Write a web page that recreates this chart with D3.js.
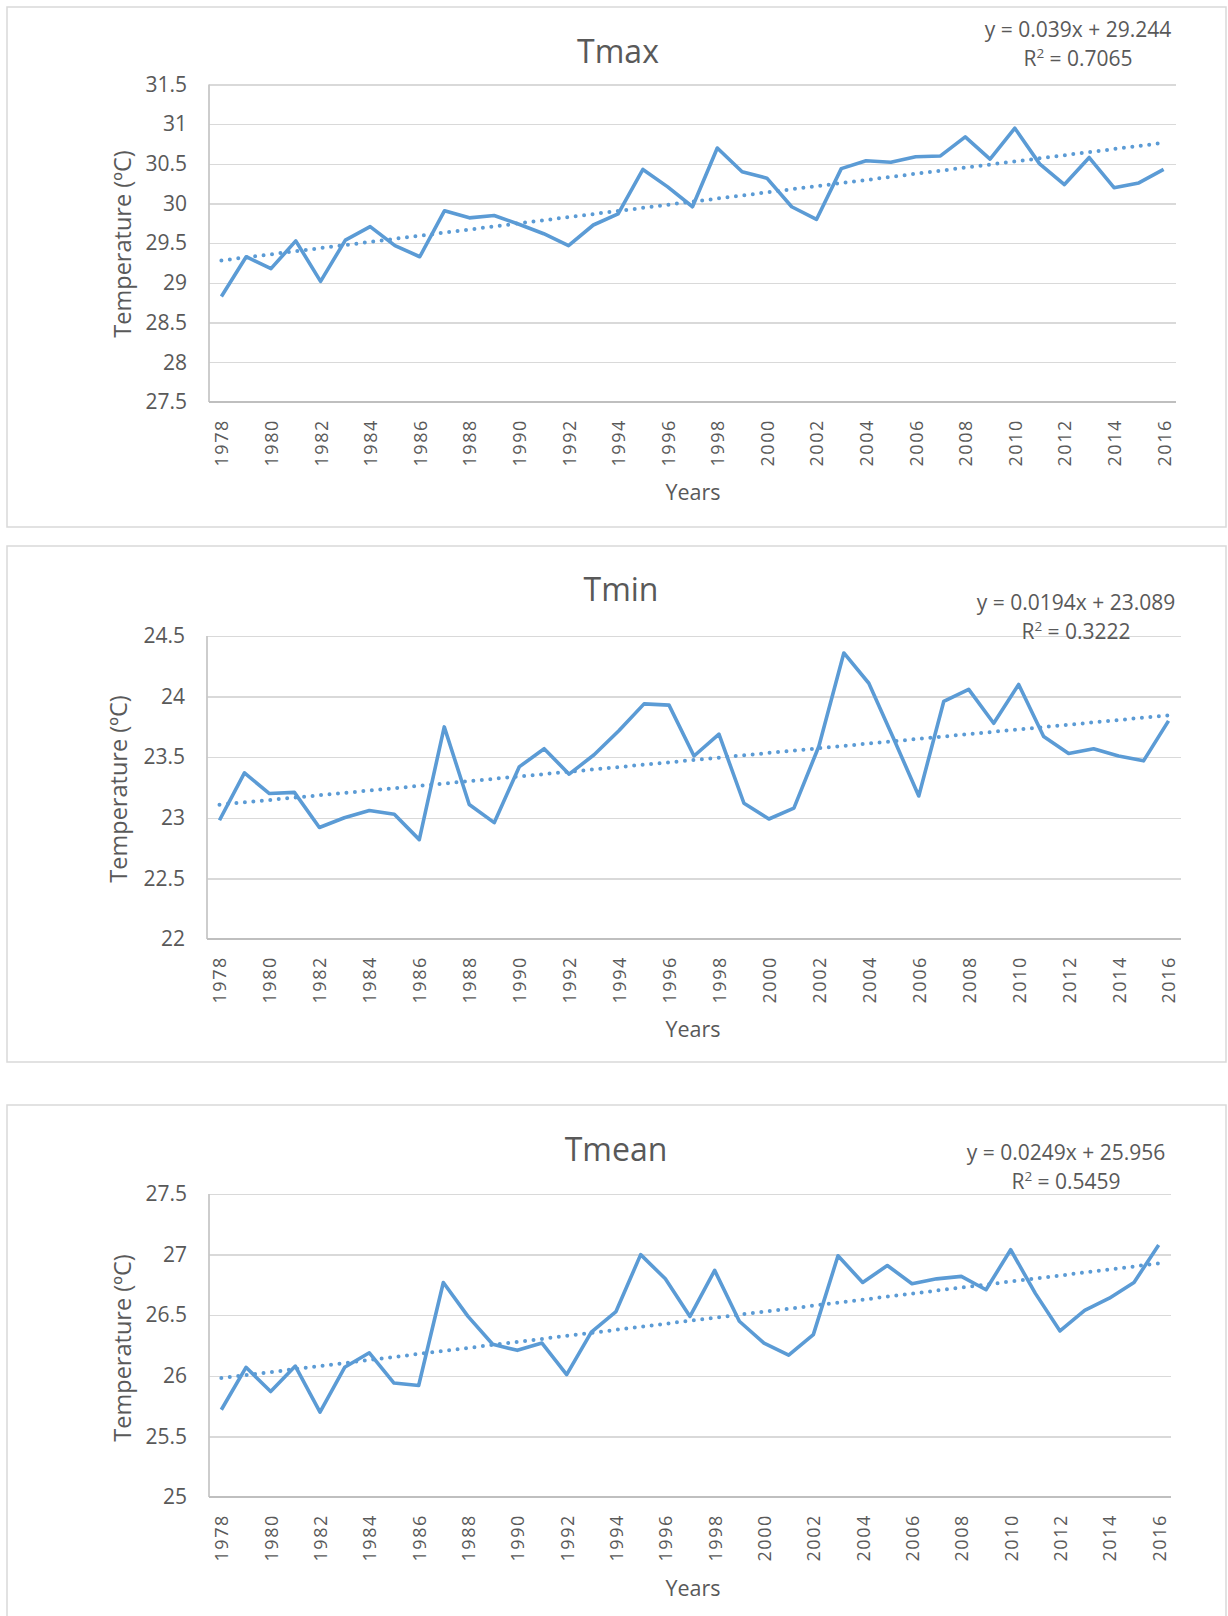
<!doctype html>
<html>
<head>
  <meta charset="utf-8">
  <style>
      body { margin:0; background:#fff; }
      svg { display:block; }
      text { font-family:"Open Sans", sans-serif; fill:#595959; }
      .grid line { stroke:#d9d9d9; stroke-width:1.3; shape-rendering:crispEdges; }
      .grid path { display:none; }
      .grid text { font-size:21px; }
      .xaxis path { stroke:#bfbfbf; stroke-width:1.8; }
      .xaxis text { font-size:18px; letter-spacing:1.6px; }
      .frame { fill:none; stroke:#d9d9d9; stroke-width:1.5; }
      .series { fill:none; stroke:#5b9bd5; stroke-width:3.6; stroke-linejoin:round; }
      .trend { fill:none; stroke:#5b9bd5; stroke-width:4; stroke-linecap:round; stroke-dasharray:0 8.5; }
  </style>
  <script src="https://cdn.jsdelivr.net/npm/d3@7"></script>
</head>
<body>
  <script>
      // Data
      var years = d3.range(1978, 2017);

      var tmax = [28.83,29.33,29.18,29.53,29.02,29.54,29.71,29.47,29.33,29.91,
                  29.82,29.85,29.74,29.62,29.47,29.73,29.87,30.43,30.21,29.96,
                  30.70,30.40,30.32,29.96,29.80,30.44,30.54,30.52,30.59,30.60,
                  30.84,30.56,30.95,30.50,30.24,30.58,30.20,30.26,30.43];

      var tmin = [22.98,23.37,23.20,23.21,22.92,23.00,23.06,23.03,22.82,23.75,
                  23.11,22.96,23.42,23.57,23.36,23.52,23.72,23.94,23.93,23.51,
                  23.69,23.12,22.99,23.08,23.59,24.36,24.11,23.65,23.18,23.96,
                  24.06,23.78,24.10,23.67,23.53,23.57,23.51,23.47,23.80];

      var tmean = [25.72,26.07,25.87,26.08,25.70,26.07,26.19,25.94,25.92,26.77,
                   26.49,26.26,26.21,26.27,26.01,26.36,26.53,27.00,26.80,26.49,
                   26.87,26.45,26.27,26.17,26.34,26.99,26.77,26.91,26.76,26.80,
                   26.82,26.71,27.04,26.68,26.37,26.54,26.64,26.77,27.08];

      var tmaxTicks  = [27.5,28,28.5,29,29.5,30,30.5,31,31.5];
      var tminTicks  = [22,22.5,23,23.5,24,24.5];
      var tmeanTicks = [25,25.5,26,26.5,27,27.5];

      // trendline coefficients as printed on the charts (x = 1..39)
      var tmaxTrend  = [0.039, 29.244];
      var tminTrend  = [0.0194, 23.089];
      var tmeanTrend = [0.0249, 25.956];

      var tmaxEq  = ["y = 0.039x + 29.244", "0.7065"];
      var tminEq  = ["y = 0.0194x + 23.089", "0.3222"];
      var tmeanEq = ["y = 0.0249x + 25.956", "0.5459"];

      var xTickYears = years.filter(function(d,i) { return i % 2 == 0; });

      var svg = d3.select("body").append("svg")
         .attr("width", 1228)
         .attr("height", 1616);

      function drawChart(p) {
         var g = svg.append("g");

         g.append("rect").attr("class", "frame")
            .attr("x", p.frame[0]).attr("y", p.frame[1])
            .attr("width", p.frame[2]).attr("height", p.frame[3]);

         var x = d3.scalePoint()
            .domain(years)
            .range([p.left, p.right])
            .padding(0.5);

         var y = d3.scaleLinear()
            .domain([p.ticks[0], p.ticks[p.ticks.length-1]])
            .range([p.bottom, p.top]);

         // gridlines + y labels
         g.append("g").attr("class", "grid")
            .attr("transform", "translate(" + p.left + ",0)")
            .call(d3.axisLeft(y)
               .tickValues(p.ticks)
               .tickFormat(d3.format(""))
               .tickSize(-(p.right - p.left))
               .tickPadding(p.left - p.labelRight));

         // left axis line
         g.append("line")
            .attr("x1", p.left).attr("x2", p.left)
            .attr("y1", p.top).attr("y2", p.bottom)
            .style("stroke", "#c8c8c8").style("stroke-width", 1.8);

         // x axis with rotated year labels
         var xa = g.append("g").attr("class", "xaxis")
            .attr("transform", "translate(0," + p.bottom + ")")
            .call(d3.axisBottom(x)
               .tickValues(xTickYears)
               .tickSize(0)
               .tickSizeOuter(0));
         xa.select(".domain").attr("d", "M" + p.left + ",0H" + p.right);
         xa.selectAll("text")
            .attr("transform", "rotate(-90)")
            .attr("text-anchor", "end")
            .attr("x", -p.xLabelGap)
            .attr("y", 0)
            .attr("dy", "0.36em");

         // trendline
         var n = p.values.length;
         g.append("line").attr("class", "trend")
            .attr("x1", x(years[0]))
            .attr("y1", y(p.trend[0]*1 + p.trend[1]))
            .attr("x2", x(years[n-1]))
            .attr("y2", y(p.trend[0]*n + p.trend[1]));

         // series line
         var line = d3.line()
            .x(function(d,i) { return x(years[i]); })
            .y(function(d) { return y(d); });
         g.append("path").attr("class", "series")
            .attr("d", line(p.values));

         // title
         g.append("text")
            .attr("x", p.titleX).attr("y", p.titleY)
            .attr("text-anchor", "middle")
            .style("font-size", "32px")
            .text(p.title);

         // equation
         g.append("text")
            .attr("x", p.eqX).attr("y", p.eqY)
            .attr("text-anchor", "middle")
            .style("font-size", "21px")
            .text(p.eq[0]);
         var r2 = g.append("text")
            .attr("x", p.eqX).attr("y", p.eqY + 29)
            .attr("text-anchor", "middle")
            .style("font-size", "21px");
         r2.append("tspan").text("R");
         r2.append("tspan").attr("dy", -8).style("font-size", "13.5px").text("2");
         r2.append("tspan").attr("dy", 8).text(" = " + p.eq[1]);

         // axis titles
         g.append("text")
            .attr("transform", "translate(" + p.yTitleX + "," + p.yTitleY + ") rotate(-90)")
            .attr("text-anchor", "middle")
            .attr("dy", "0.35em")
            .style("font-size", "23.5px")
            .text("Temperature (ºC)");

         g.append("text")
            .attr("x", 693).attr("y", p.yearsY)
            .attr("text-anchor", "middle")
            .style("font-size", "21.5px")
            .text("Years");
      }

      drawChart({ title:"Tmax", values:tmax, ticks:tmaxTicks, trend:tmaxTrend, eq:tmaxEq,
         frame:[7,7,1219,520], left:209, right:1176, top:84.5, bottom:402, labelRight:187,
         titleX:618, titleY:63, eqX:1078, eqY:37, yTitleX:123, yTitleY:244,
         xLabelGap:17, yearsY:500 });

      drawChart({ title:"Tmin", values:tmin, ticks:tminTicks, trend:tminTrend, eq:tminEq,
         frame:[7,546,1219,516], left:207, right:1181, top:636, bottom:939, labelRight:185,
         titleX:621, titleY:601, eqX:1076, eqY:610, yTitleX:119, yTitleY:789,
         xLabelGap:17, yearsY:1037 });

      drawChart({ title:"Tmean", values:tmean, ticks:tmeanTicks, trend:tmeanTrend, eq:tmeanEq,
         frame:[7,1105,1219,600], left:209, right:1171, top:1194, bottom:1497, labelRight:187,
         titleX:616, titleY:1161, eqX:1066, eqY:1160, yTitleX:123, yTitleY:1348,
         xLabelGap:17, yearsY:1596 });
  </script>
</body>
</html>
